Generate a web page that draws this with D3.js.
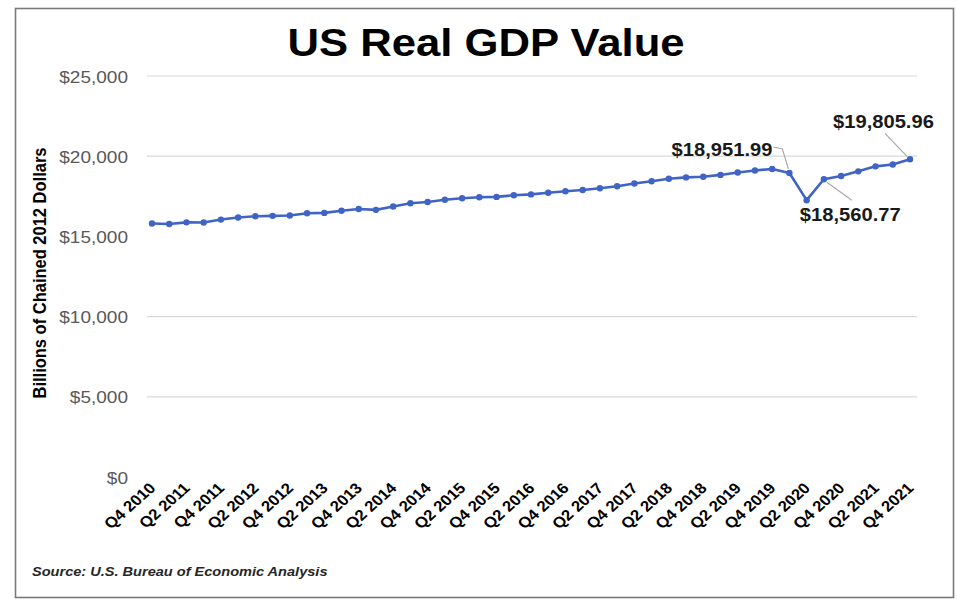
<!DOCTYPE html>
<html>
<head>
<meta charset="utf-8">
<script src="https://cdn.jsdelivr.net/npm/d3@7"></script>
<style>
  html, body { margin: 0; padding: 0; background: #fff; }
  svg { display: block; font-family: "Liberation Sans", Arial, sans-serif; }
</style>
</head>
<body>
<svg id="chart" width="957" height="599"></svg>
<script>
// Quarterly real GDP, billions of chained 2012 dollars
const quarters = [
  "Q4 2010",
  "Q1 2011", "Q2 2011", "Q3 2011", "Q4 2011",
  "Q1 2012", "Q2 2012", "Q3 2012", "Q4 2012",
  "Q1 2013", "Q2 2013", "Q3 2013", "Q4 2013",
  "Q1 2014", "Q2 2014", "Q3 2014", "Q4 2014",
  "Q1 2015", "Q2 2015", "Q3 2015", "Q4 2015",
  "Q1 2016", "Q2 2016", "Q3 2016", "Q4 2016",
  "Q1 2017", "Q2 2017", "Q3 2017", "Q4 2017",
  "Q1 2018", "Q2 2018", "Q3 2018", "Q4 2018",
  "Q1 2019", "Q2 2019", "Q3 2019", "Q4 2019",
  "Q1 2020", "Q2 2020", "Q3 2020", "Q4 2020",
  "Q1 2021", "Q2 2021", "Q3 2021", "Q4 2021"
];
const gdp = [
  15808.6,
  15769.9, 15876.8, 15870.7, 16048.7,
  16179.0, 16253.7, 16282.2, 16300.0,
  16441.5, 16464.4, 16594.7, 16712.8,
  16654.2, 16868.1, 17064.6, 17141.2,
  17280.6, 17380.9, 17437.1, 17462.7,
  17565.5, 17618.3, 17724.5, 17812.6,
  17896.6, 18000.2, 18129.1, 18296.7,
  18436.3, 18590.0, 18679.6, 18721.3,
  18833.2, 18982.5, 19112.7, 19202.3,
  18951.99, 17258.2, 18560.77, 18767.8,
  19055.7, 19368.3, 19478.9, 19805.96
];
const yTicks = [0, 5000, 10000, 15000, 20000, 25000];
const gridValues = [5000, 10000, 20000, 25000];
const xTickLabels = quarters.filter((q, i) => i % 2 === 0);
const callouts = ["Q1 2020", "Q3 2020", "Q4 2021"];

const SX = 1.12; // slight horizontal widening of the lettering
const svg = d3.select("#chart");

// frame
svg.append("rect")
  .attr("x", 15.5).attr("y", 8.5).attr("width", 938).attr("height", 589)
  .attr("fill", "#fff").attr("stroke", "#7a7a7a").attr("stroke-width", 1.6);

const x = d3.scalePoint().domain(quarters).range([152, 910]);
const y = d3.scaleLinear().domain([0, 25000]).range([477, 76]);
const fmtTick = d3.format("$,");
const fmtVal = v => "$" + d3.format(",.2f")(v);

// title
svg.append("text")
  .attr("transform", `translate(486,56) scale(${SX},1)`)
  .attr("text-anchor", "middle")
  .attr("font-size", 39).attr("font-weight", "bold").attr("fill", "#000")
  .text("US Real GDP Value");

// gridlines
svg.append("g").selectAll("line").data(gridValues).join("line")
  .attr("x1", 147).attr("x2", 917)
  .attr("y1", d => y(d)).attr("y2", d => y(d))
  .attr("stroke", "#d9d9d9").attr("stroke-width", 1.2);

// y axis labels
const yAxis = svg.append("g").attr("transform", "translate(128,0)")
  .call(d3.axisLeft(y).tickValues(yTicks).tickFormat(fmtTick).tickSize(0).tickPadding(0));
yAxis.select(".domain").remove();
yAxis.selectAll(".tick text")
  .attr("font-family", "'Liberation Sans', Arial, sans-serif")
  .attr("font-size", 17).attr("fill", "#595959")
  .attr("x", 0).attr("dy", "0.36em")
  .attr("transform", `scale(${SX},1)`);

// y axis title
svg.append("text")
  .attr("transform", `translate(46,273) scale(${SX},1) rotate(-90)`)
  .attr("text-anchor", "middle")
  .attr("font-size", 16.5).attr("font-weight", "bold").attr("fill", "#000")
  .text("Billions of Chained 2012 Dollars");

// x axis labels
const xAxis = svg.append("g").attr("transform", "translate(0,477)")
  .call(d3.axisBottom(x).tickValues(xTickLabels).tickSize(0).tickPadding(0));
xAxis.select(".domain").remove();
xAxis.selectAll(".tick text")
  .attr("font-family", "'Liberation Sans', Arial, sans-serif")
  .attr("font-size", 15).attr("font-weight", "bold").attr("fill", "#000")
  .attr("text-anchor", "end")
  .attr("y", 0).attr("dy", 0)
  .attr("transform", `translate(4,12) scale(${SX},1) rotate(-45)`);

// series line and markers
const blue = "#4064c6";
const pts = quarters.map((q, i) => ({ q, v: gdp[i] }));
svg.append("path").datum(pts)
  .attr("fill", "none").attr("stroke", blue).attr("stroke-width", 2.6)
  .attr("stroke-linejoin", "round")
  .attr("d", d3.line().x(d => x(d.q)).y(d => y(d.v)));
svg.append("g").selectAll("circle").data(pts).join("circle")
  .attr("cx", d => x(d.q)).attr("cy", d => y(d.v)).attr("r", 3.2)
  .attr("fill", blue);

// value callouts with leader lines
const calloutStyle = {
  "Q1 2020": { tx: -17, ty: -17, anchor: "end", leader: [[-16, -26], [-7, -24], [-1, -4]] },
  "Q3 2020": { tx: -24, ty: 42, anchor: "start", leader: [[3, 3], [28, 21]] },
  "Q4 2021": { tx: -77, ty: -31, anchor: "start", leader: [[-25, -26], [-3, -3]] }
};
const cg = svg.append("g");
callouts.forEach(q => {
  const i = quarters.indexOf(q);
  const px = x(q), py = y(gdp[i]);
  const s = calloutStyle[q];
  cg.append("path")
    .attr("d", d3.line()(s.leader.map(p => [px + p[0], py + p[1]])))
    .attr("fill", "none").attr("stroke", "#a6a6a6").attr("stroke-width", 1.1);
  cg.append("text")
    .attr("transform", `translate(${px + s.tx},${py + s.ty}) scale(${SX},1)`)
    .attr("text-anchor", s.anchor)
    .attr("font-size", 18).attr("font-weight", "bold").attr("fill", "#1a1a1a")
    .text(fmtVal(gdp[i]));
});

// source note
svg.append("text")
  .attr("transform", `translate(32,576) scale(${SX},1)`)
  .attr("font-size", 13).attr("font-weight", "bold").attr("font-style", "italic")
  .attr("fill", "#262626")
  .text("Source: U.S. Bureau of Economic Analysis");
</script>
</body>
</html>
